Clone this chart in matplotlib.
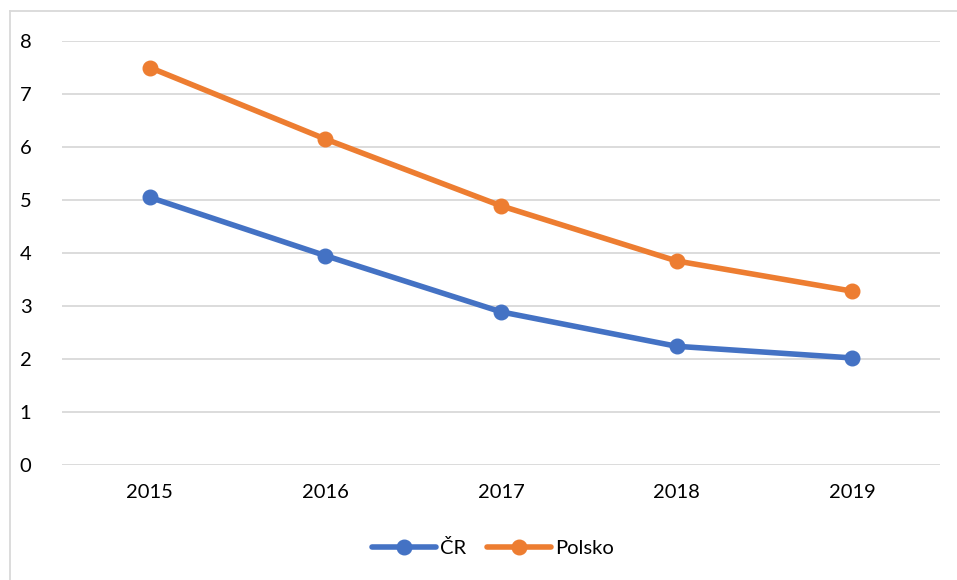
import matplotlib
matplotlib.use("Agg")
import matplotlib.pyplot as plt
from matplotlib.lines import Line2D

years = ["2015", "2016", "2017", "2018", "2019"]
cr = [5.05, 3.95, 2.89, 2.24, 2.02]
polsko = [7.50, 6.15, 4.89, 3.85, 3.28]
yticks = [0, 1, 2, 3, 4, 5, 6, 7, 8]

plt.rcParams['font.family'] = ['Lato', 'DejaVu Sans']

W, H = 957, 580
fig = plt.figure(figsize=(W / 100, H / 100), dpi=100)
ax = fig.add_axes([62 / W, (H - 465) / H, (940 - 62) / W, (465 - 41) / H])

x = list(range(len(years)))
blue = "#4472C4"
orange = "#ED7D31"
ax.plot(x, cr, color=blue, lw=4.0, marker="o", ms=10.5, solid_capstyle="round", label="ČR", zorder=3)
ax.plot(x, polsko, color=orange, lw=4.0, marker="o", ms=10.5, solid_capstyle="round", label="Polsko", zorder=3)

ax.set_xlim(-0.5, len(years) - 0.5)
ax.set_ylim(0, 8)
ax.set_yticks(yticks)
ax.set_yticklabels([str(v) for v in yticks])
ax.set_xticks(x)
ax.set_xticklabels(years)
ax.grid(axis="y", color="#D9D9D9", lw=1.3)
ax.set_axisbelow(True)
for s in ax.spines.values():
    s.set_visible(False)
ax.tick_params(length=0, labelsize=14.5, colors="#000000")
ax.tick_params(axis="y", pad=22)
ax.tick_params(axis="x", pad=14)

leg = fig.legend(loc="center", bbox_to_anchor=(493 / W, (H - 548) / H), ncol=2, frameon=False,
                 fontsize=14.5, handlelength=3.2, columnspacing=1.0, handletextpad=0.2)

# chart area border (top and left visible)
fig.add_artist(Line2D([10 / W, 1], [(H - 11) / H, (H - 11) / H], color="#D9D9D9", lw=1.3, transform=fig.transFigure))
fig.add_artist(Line2D([10 / W, 10 / W], [0, (H - 11) / H], color="#D9D9D9", lw=1.3, transform=fig.transFigure))

fig.savefig("out.png", dpi=100)
